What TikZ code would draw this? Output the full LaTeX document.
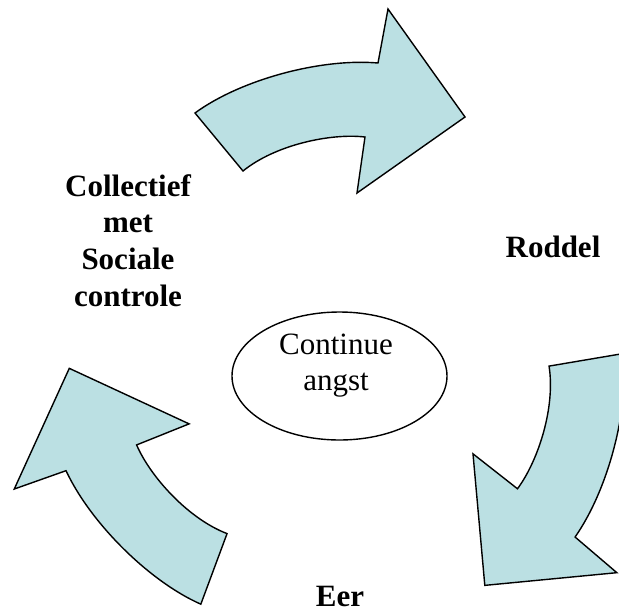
\documentclass[tikz,border=0pt]{standalone}
\usepackage{fontspec}
\setmainfont{Liberation Serif}
\usetikzlibrary{shapes.geometric}
\definecolor{arrowfill}{RGB}{187,224,227}
\begin{document}
\begin{tikzpicture}[x=1pt,y=-1pt,
  bigarrow/.style={fill=arrowfill,draw=black,line width=1.4pt,line join=miter},
  lbl/.style={font=\bfseries\fontsize{31}{36.7}\selectfont,align=center,inner sep=0pt},
  plain/.style={font=\fontsize{31}{36}\selectfont,align=center,inner sep=0pt}]
\useasboundingbox (0,0) rectangle (619,611);
\coordinate (rc) at (339.7,356.9);
\begin{scope}
\clip (0,0) rectangle (619,611);
\foreach \a in {0,-120,-240}{
  \draw[bigarrow, rotate around={\a:(rc)}]
    (195,113) .. controls (240,80) and (320,58) .. (378,63)
    -- (388,9) -- (465,117) -- (357,193) -- (365,137)
    .. controls (330,133) and (275,145) .. (243,171) -- cycle;
}
\end{scope}
\node[draw, ellipse, line width=1.4pt, minimum width=215pt, minimum height=128pt, inner sep=0pt] (angst) at (339.5,376) {};
\node[plain, anchor=north] (angsttext) at (336,334) {Continue\\angst};
\node[lbl, anchor=base] (roddel) at (553,257) {Roddel};
\node[lbl, anchor=base] (eer) at (340,606) {Eer};
\node[lbl, anchor=north] (coll) at (128,174) {Collectief\\met\\Sociale\\controle};
\end{tikzpicture}
\end{document}
